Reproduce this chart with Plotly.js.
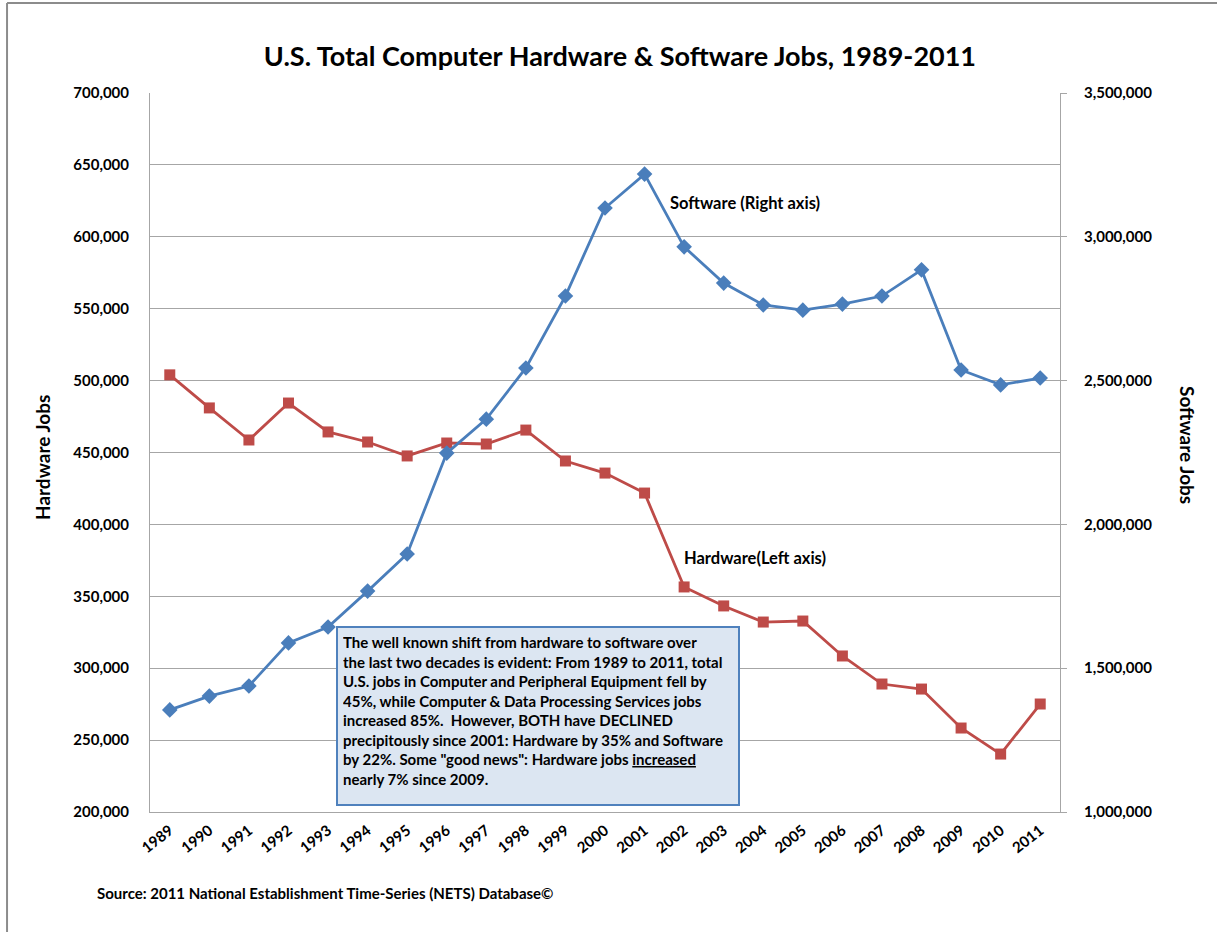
<!DOCTYPE html>
<html>
<head>
<meta charset="utf-8">
<script src="https://cdn.plot.ly/plotly-3.0.1.min.js"></script>
<style>html,body{margin:0;padding:0;background:#fff;}#chart{width:1217px;height:932px;}</style>
</head>
<body>
<div id="chart"></div>
<script>
const years = ["1989","1990","1991","1992","1993","1994","1995","1996","1997","1998","1999","2000","2001","2002","2003","2004","2005","2006","2007","2008","2009","2010","2011"];
const hardwareJobs = [504000,481000,458700,484400,464300,457300,447600,456600,455900,465600,444100,435700,421800,356500,343300,332100,332800,308500,289000,285500,258400,240300,275100];
const softwareJobs = [1355000,1403000,1438000,1588000,1643000,1768000,1897000,2248000,2366000,2544000,2794000,3100000,3218000,2965000,2839000,2763000,2745000,2766000,2794000,2885000,2537000,2485000,2509000];
const leftTicks = [200000,250000,300000,350000,400000,450000,500000,550000,600000,650000,700000];
const rightTicks = [1000000,1500000,2000000,2500000,3000000,3500000];

const FONT = "Lato, 'Open Sans', sans-serif";
const fmt = v => v.toLocaleString('en-US');

const traces = [
  {
    x: years, y: hardwareJobs, name: 'Hardware', type: 'scatter', mode: 'lines+markers',
    yaxis: 'y', line: {color: '#BE4B48', width: 2.8},
    marker: {symbol: 'square', size: 11, color: '#BE4B48'}
  },
  {
    x: years, y: softwareJobs, name: 'Software', type: 'scatter', mode: 'lines+markers',
    yaxis: 'y2', line: {color: '#4A7EBB', width: 2.8},
    marker: {symbol: 'diamond', size: 12, color: '#4A7EBB'}
  }
];

const layout = {
  width: 1217, height: 932,
  margin: {l: 150, r: 157, t: 93, b: 120},
  paper_bgcolor: '#fff', plot_bgcolor: '#fff',
  showlegend: false,
  font: {family: FONT, color: '#000', size: 14},
  title: {
    text: '<b>U.S. Total Computer Hardware &amp; Software Jobs, 1989-2011</b>',
    font: {family: FONT, size: 27, color: '#000'},
    x: 0.5094, xanchor: 'center', y: 0.9388, yanchor: 'middle', xref: 'container', yref: 'container'
  },
  xaxis: {
    type: 'category', range: [-0.5, 22.5],
    showgrid: false, showline: true, linecolor: '#A6A6A6', linewidth: 1,
    ticks: '', tickangle: -38,
    tickfont: {family: FONT, size: 15, color: '#000', weight: 'bold'},
    ticklabelstandoff: 3
  },
  yaxis: {
    range: [200000, 700000], tickvals: leftTicks, ticktext: leftTicks.map(v => '<b>' + fmt(v) + '</b>'),
    showgrid: true, gridcolor: '#A6A6A6', gridwidth: 1,
    showline: true, linecolor: '#A6A6A6', linewidth: 1, ticks: '',
    tickfont: {family: FONT, size: 15, color: '#000'},
    ticklabelstandoff: 17, zeroline: false
  },
  yaxis2: {
    overlaying: 'y', side: 'right', range: [1000000, 3500000],
    tickvals: rightTicks, ticktext: rightTicks.map(v => '<b>' + fmt(v) + '</b>'),
    showgrid: false, showline: true, linecolor: '#A6A6A6', linewidth: 1,
    ticks: 'outside', ticklen: 6, tickcolor: '#A6A6A6',
    tickfont: {family: FONT, size: 15, color: '#000'},
    ticklabelstandoff: 14, zeroline: false
  },
  shapes: [
    {type: 'line', xref: 'paper', yref: 'paper', x0: -0.1571, x1: -0.1571, y0: 1.1252, y1: -0.17, line: {color: '#8C8C8C', width: 2}},
    {type: 'line', xref: 'paper', yref: 'paper', x0: -0.1571, x1: 1.18, y0: 1.1252, y1: 1.1252, line: {color: '#8C8C8C', width: 2}}
  ],
  annotations: [
    {text: '<b>Hardware Jobs</b>', xref: 'paper', yref: 'paper', x: -0.1187, y: 0.4937,
     showarrow: false, textangle: -90, font: {family: FONT, size: 19, color: '#000'}, xanchor: 'center', yanchor: 'middle'},
    {text: '<b>Software Jobs</b>', xref: 'paper', yref: 'paper', x: 1.1407, y: 0.5104,
     showarrow: false, textangle: 90, font: {family: FONT, size: 19, color: '#000'}, xanchor: 'center', yanchor: 'middle'},
    {text: '<b>Software (Right axis)</b>', xref: 'paper', yref: 'paper', x: 0.5692, y: 0.8470,
     showarrow: false, font: {family: FONT, size: 16.5, color: '#000'}, xanchor: 'left', yanchor: 'middle'},
    {text: '<b>Hardware(Left axis)</b>', xref: 'paper', yref: 'paper', x: 0.5846, y: 0.3533,
     showarrow: false, font: {family: FONT, size: 16.5, color: '#000'}, xanchor: 'left', yanchor: 'middle'},
    {text: '<b>Source: 2011 National Establishment Time-Series (NETS) Database©</b>', xref: 'paper', yref: 'paper',
     x: -0.0604, y: -0.1127, showarrow: false, font: {family: FONT, size: 15, color: '#000'}, xanchor: 'left', yanchor: 'middle'},
    {text: '<b>The well known shift from hardware to software over<br>the last two decades is evident: From 1989 to 2011, total<br>U.S. jobs in Computer and Peripheral Equipment fell by<br>45%, while Computer &amp; Data Processing Services jobs<br>increased 85%.  However, BOTH have DECLINED<br>precipitously since 2001: Hardware by 35% and Software<br>by 22%. Some "good news": Hardware jobs <u>increased</u><br>nearly 7% since 2009.</b>',
     xref: 'paper', yref: 'paper', x: 0.2044, y: 0.2587, xanchor: 'left', yanchor: 'top',
     showarrow: false, align: 'left', valign: 'top', width: 390, height: 166,
     bgcolor: '#DCE6F2', bordercolor: '#4F81BD', borderwidth: 2, borderpad: 5,
     font: {family: FONT, size: 15, color: '#000'}}
  ]
};

Plotly.newPlot('chart', traces, layout, {displayModeBar: false, staticPlot: true});
</script>
</body>
</html>
